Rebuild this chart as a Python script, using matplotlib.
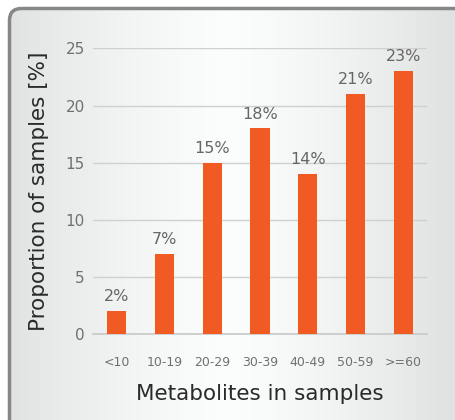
import numpy as np
import matplotlib.pyplot as plt
from matplotlib.patches import FancyBboxPatch

groups = ['<10', '10-19', '20-29', '30-39', '40-49', '50-59', '>=60']
shares = [2, 7, 15, 18, 14, 21, 23]

fig = plt.figure(figsize=(4.56, 4.2), dpi=100)

# background panel with horizontal gradient and rounded grey border
bg = fig.add_axes([0, 0, 1, 1], zorder=0)
bg.set_xlim(0, 456)
bg.set_ylim(420, 0)
bg.axis('off')
xs = np.linspace(0, 1, 456)
shade = 1 - 0.11 * (np.abs(xs - 0.5) / 0.5) ** 1.4
grad = np.tile(shade, (420, 1))
img = bg.imshow(np.dstack([grad * 0.985, grad * 0.992, grad * 0.992]), extent=(0, 456, 420, 0), aspect='auto')
box = FancyBboxPatch((9.5, 8.5), 470, 430, boxstyle='round,pad=0,rounding_size=12',
                     facecolor='none', edgecolor='#878787', linewidth=2.5)
bg.add_patch(box)
img.set_clip_path(box)

ax = fig.add_axes([93 / 456, 1 - 334 / 420, 334 / 456, (334 - 48.5) / 420], zorder=1)
ax.patch.set_visible(False)
x = np.arange(len(groups))
bars = ax.bar(x, shares, width=0.4, color='#f15a22', zorder=3)
for b, v in zip(bars, shares):
    ax.text(b.get_x() + b.get_width() / 2, v + 0.6, f'{v}%', ha='center', va='bottom',
            fontsize=11.5, color='#666666')

ax.set_xlim(-0.5, len(groups) - 0.5)
ax.set_ylim(0, 25)
ax.set_yticks([0, 5, 10, 15, 20, 25])
ax.set_xticks(x)
ax.set_xticklabels(groups)
ax.yaxis.grid(True, color='#d0d0d0', linewidth=1)
ax.axhline(0, color='#c8c8c8', linewidth=1.2, clip_on=False, zorder=2)
ax.set_axisbelow(True)
for s in ax.spines.values():
    s.set_visible(False)
ax.tick_params(axis='both', length=0)
ax.tick_params(axis='y', labelsize=11, labelcolor='#707070', pad=6)
ax.tick_params(axis='x', labelsize=9, labelcolor='#707070', pad=16)
ax.set_xlabel('Metabolites in samples', fontsize=15.5, color='#2a2a2a', labelpad=11)
ax.set_ylabel('Proportion of samples [%]', fontsize=15.5, color='#2a2a2a', labelpad=12)

plt.savefig('out.png', dpi=100)
